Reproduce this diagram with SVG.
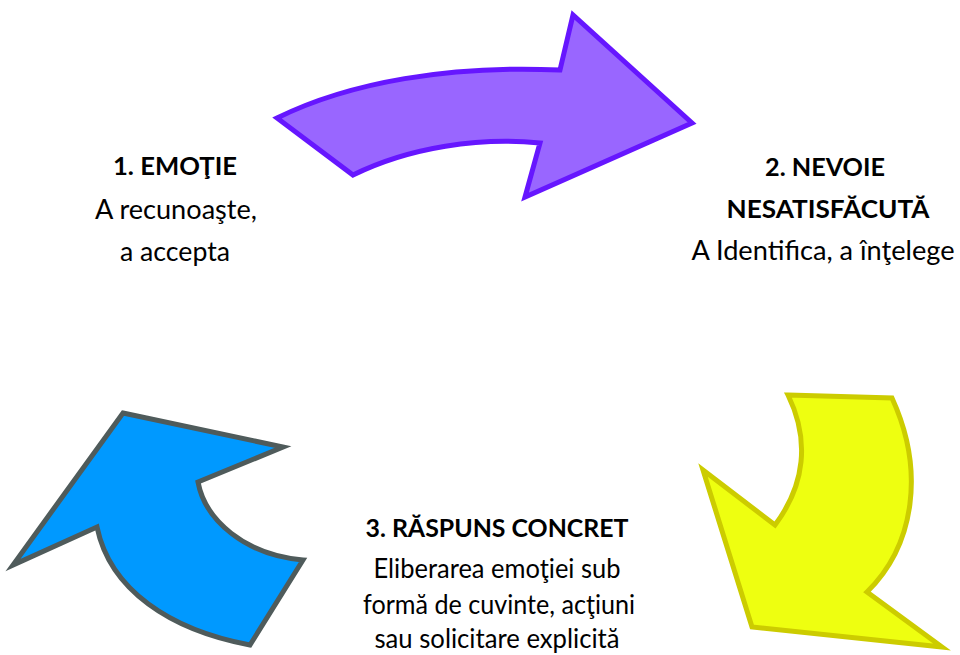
<svg xmlns="http://www.w3.org/2000/svg" width="960" height="655" viewBox="0 0 960 655">
<style>
.t{font-family:Lato,"Liberation Sans",sans-serif;font-size:26px;fill:#000;text-anchor:middle}
.b{font-weight:bold;font-size:25px}
.arr{stroke-width:5;stroke-linejoin:miter;stroke-miterlimit:10}
</style>
<rect width="960" height="655" fill="#fff"/>
<g id="connectors">
<path id="arrow-1-2" class="arr" fill="#9966ff" stroke="#6616ff" d="M277,118 C350,82 450,65 560,70 L573,15 L692,123 L525,197 L540,143 C480,137 410,147 353,175 Z"/>
<path id="arrow-2-3" class="arr" fill="#eeff10" stroke="#cccc00" d="M788,395 L892,398 C925,470 915,545 867,592 L942,647 L752,627 L703,470 L775,525 C805,485 810,440 788,395 Z"/>
<path id="arrow-3-1" class="arr" fill="#0099ff" stroke="#4f5b5b" d="M123,413 L283,447 L198,482 C205,520 245,555 303,560 L250,645 C170,630 110,590 97,527 L13,565 Z"/>
</g>
<g id="node1">
<text class="t b" x="175" y="175" textLength="124" lengthAdjust="spacingAndGlyphs">1. EMOŢIE</text>
<text class="t" x="176" y="219" textLength="162" lengthAdjust="spacingAndGlyphs">A recunoaşte,</text>
<text class="t" x="175" y="261" textLength="110" lengthAdjust="spacingAndGlyphs">a accepta</text>
</g>
<g id="node2">
<text class="t b" x="825" y="176" textLength="120" lengthAdjust="spacingAndGlyphs">2. NEVOIE</text>
<text class="t b" x="828" y="218" textLength="203" lengthAdjust="spacingAndGlyphs">NESATISFĂCUTĂ</text>
<text class="t" x="823" y="260" textLength="263" lengthAdjust="spacingAndGlyphs">A Identifica, a înţelege</text>
</g>
<g id="node3">
<text class="t b" x="497" y="537" textLength="263" lengthAdjust="spacingAndGlyphs">3. RĂSPUNS CONCRET</text>
<text class="t" x="497" y="578" textLength="247" lengthAdjust="spacingAndGlyphs">Eliberarea emoţiei sub</text>
<text class="t" x="499" y="614" textLength="272" lengthAdjust="spacingAndGlyphs">formă de cuvinte, acţiuni</text>
<text class="t" x="497" y="648" textLength="245" lengthAdjust="spacingAndGlyphs">sau solicitare explicită</text>
</g>
</svg>
